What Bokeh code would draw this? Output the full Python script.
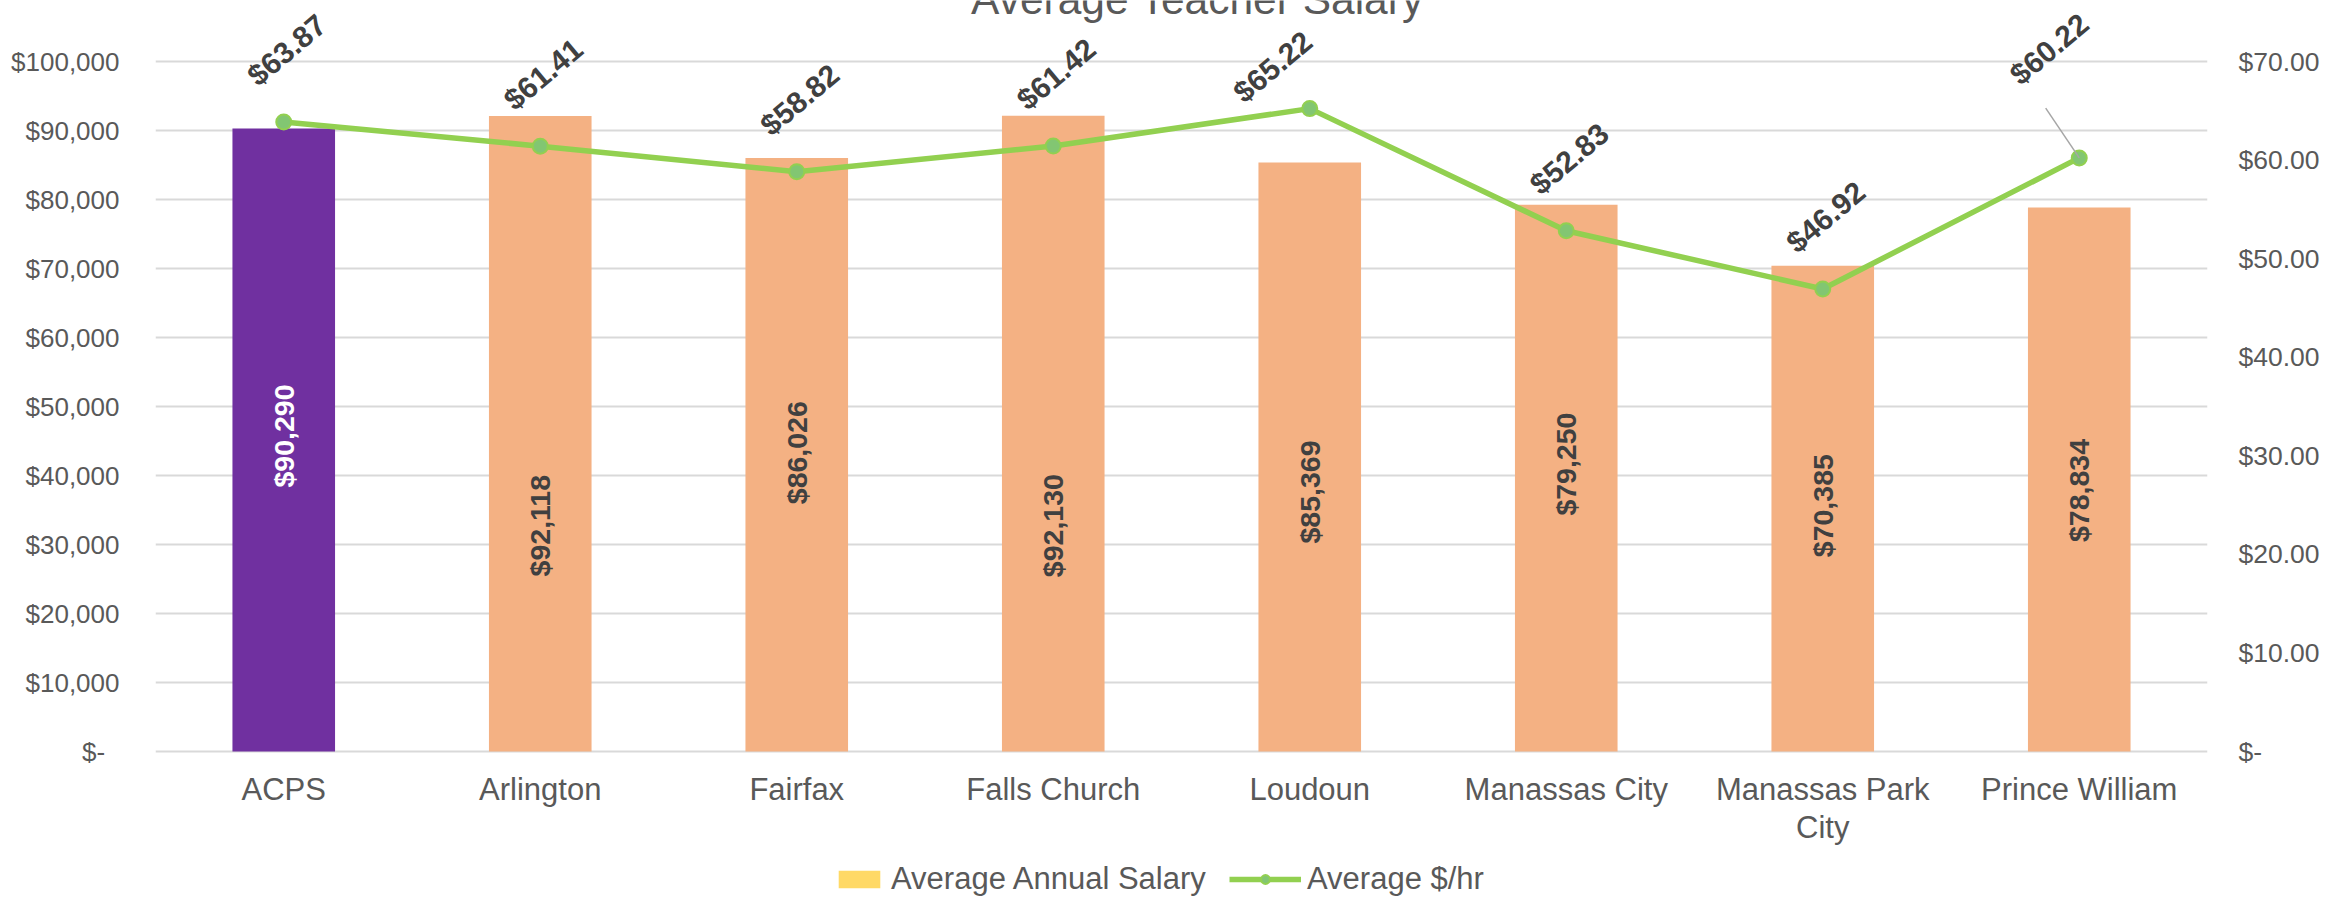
import math
from bokeh.plotting import figure
from bokeh.models import (ColumnDataSource, Range1d, LinearAxis, FixedTicker,
                          Legend, LegendItem, Label)
from bokeh.core.properties import value
from bokeh.embed import file_html
from bokeh.resources import INLINE

# ---------------- data ----------------
districts = ["ACPS", "Arlington", "Fairfax", "Falls Church", "Loudoun",
             "Manassas City", "Manassas Park City", "Prince William"]
district_tick_labels = ["ACPS", "Arlington", "Fairfax", "Falls Church", "Loudoun",
                        "Manassas City", "Manassas Park\nCity", "Prince William"]
annual_salary = [90290, 92118, 86026, 92130, 85369, 79250, 70385, 78834]
hourly_rate = [63.87, 61.41, 58.82, 61.42, 65.22, 52.83, 46.92, 60.22]

salary_ticks = [0, 10000, 20000, 30000, 40000, 50000, 60000, 70000, 80000, 90000, 100000]
salary_tick_labels = ["$-\u00a0\u00a0", "$10,000", "$20,000", "$30,000", "$40,000", "$50,000",
                      "$60,000", "$70,000", "$80,000", "$90,000", "$100,000"]
hourly_ticks = [0, 10, 20, 30, 40, 50, 60, 70]
hourly_tick_labels = ["$-", "$10.00", "$20.00", "$30.00", "$40.00", "$50.00", "$60.00", "$70.00"]

title_text = "Average Teacher Salary"
series_names = ["Average Annual Salary", "Average $/hr"]

# ---------------- layout / styles ----------------
FONT = "Liberation Sans"
GRAY_TEXT = "#595959"
DARK_TEXT = "#404040"
LINE_GREEN = "#92D050"

FIG_H = 897
FRAME_W = 2052
BORDER_L, BORDER_R = 155, 122
TOP_GRID_PX = 61      # pixel row of the axis maximum
ZERO_PX = 751         # pixel row of zero
PX_SPAN = (ZERO_PX - TOP_GRID_PX)
sal_max, hr_max = salary_ticks[-1], hourly_ticks[-1]
sal_range = Range1d(-(FIG_H - ZERO_PX) / PX_SPAN * sal_max,
                    sal_max + TOP_GRID_PX / PX_SPAN * sal_max)
hr_range = Range1d(-(FIG_H - ZERO_PX) / PX_SPAN * hr_max,
                   hr_max + TOP_GRID_PX / PX_SPAN * hr_max)

bar_colors = ["#7030A0"] + ["#F4B183"] * 7
bar_label_colors = ["#FFFFFF"] + [DARK_TEXT] * 7
bar_label_dy = [-4, 92, -2, 92, 35, -14, -3, 11]          # screen px
line_label_dx = [3, 3, 3, 3, -37, 3, 3, -30]              # screen px
line_label_dy = [-72, -72, -72, -72, -42, -72, -72, -109]  # screen px

bars = ColumnDataSource(dict(
    district=districts,
    salary=annual_salary,
    half=[v / 2 for v in annual_salary],
    color=bar_colors,
    label_color=bar_label_colors,
    salary_text=["${:,}".format(v) for v in annual_salary],
    dy=bar_label_dy,
    zero=[0] * len(districts),
    cat_label=district_tick_labels,
))
rates = ColumnDataSource(dict(
    district=districts,
    rate=hourly_rate,
    rate_text=["${:.2f}".format(v) for v in hourly_rate],
    dx=line_label_dx,
    dy=line_label_dy,
))

p = figure(x_range=districts, y_range=sal_range,
           frame_width=FRAME_W, frame_height=FIG_H,
           min_border_left=BORDER_L, min_border_right=BORDER_R,
           min_border_top=0, min_border_bottom=0,
           output_backend="svg", toolbar_location=None)
p.extra_y_ranges = {"hr": hr_range}
p.outline_line_color = None
p.background_fill_color = "white"
p.border_fill_color = "white"

# grid
p.xgrid.grid_line_color = None
p.ygrid.grid_line_color = "#D9D9D9"
p.ygrid.grid_line_width = 2
p.ygrid.ticker = FixedTicker(ticks=salary_ticks)

# left axis
ya = p.yaxis[0]
ya.ticker = FixedTicker(ticks=salary_ticks)
ya.major_label_overrides = {t: l for t, l in zip(salary_ticks, salary_tick_labels)}
ya.axis_line_color = None
ya.major_tick_line_color = None
ya.minor_tick_line_color = None
ya.major_label_standoff = 30
ya.major_label_text_font = FONT
ya.major_label_text_font_size = "26px"
ya.major_label_text_color = GRAY_TEXT

# right axis
ra = LinearAxis(y_range_name="hr", ticker=FixedTicker(ticks=hourly_ticks))
ra.major_label_overrides = {t: l for t, l in zip(hourly_ticks, hourly_tick_labels)}
ra.axis_line_color = None
ra.major_tick_line_color = None
ra.minor_tick_line_color = None
ra.major_label_standoff = 25
ra.major_label_text_font = FONT
ra.major_label_text_font_size = "26.5px"
ra.major_label_text_color = GRAY_TEXT
p.add_layout(ra, "right")

# category labels (drawn as text so two-line labels work)
p.xaxis.visible = False
p.text(x="district", y="zero", text="cat_label", source=bars,
       y_offset=20, text_align="center", text_baseline="top",
       text_line_height=1.1,
       text_font=value(FONT), text_font_size="31px", text_color=GRAY_TEXT)

# bars
bar_r = p.vbar(x="district", top="salary", width=0.4, source=bars,
               fill_color="color", line_color=None)
p.text(x="district", y="half", text="salary_text", source=bars,
       angle=math.pi / 2, y_offset="dy", text_align="center", text_baseline="middle",
       text_font=value(FONT), text_font_style="bold", text_font_size="28.5px",
       text_color="label_color")

# legend proxy for the bar series (series colour, zero height so nothing shows in plot)
legend_bar = p.vbar(x=[districts[0]], top=[0], width=0.4,
                    fill_color="#FFD966", line_color=None)

# line
line_r = p.line(x="district", y="rate", source=rates, y_range_name="hr",
                line_color=LINE_GREEN, line_width=5.5)
pts_r = p.scatter(x="district", y="rate", source=rates, y_range_name="hr",
                  size=15, fill_color="#82C672", line_color=LINE_GREEN, line_width=2)
# leader line for the moved last label
leader = ColumnDataSource(dict(district=[districts[-1]], rate=[hourly_rate[-1]]))
p.ray(x="district", y="rate", source=leader, y_range_name="hr",
      length=60, length_units="screen", angle=math.radians(124),
      line_color="#A6A6A6", line_width=1.5)
p.text(x="district", y="rate", text="rate_text", source=rates, y_range_name="hr",
       angle=math.radians(40), x_offset="dx", y_offset="dy",
       text_align="center", text_baseline="middle",
       text_font=value(FONT), text_font_style="bold", text_font_size="30px",
       text_color=DARK_TEXT)

# title (partly cut off at top, as in reference)
p.add_layout(Label(x=1042, y=FIG_H + 1, x_units="screen", y_units="screen",
                   text=title_text, text_align="center", text_baseline="alphabetic",
                   text_font=FONT, text_font_size="42.5px", text_color=GRAY_TEXT))


def make_legend(item, x, glyph_w):
    lg = Legend(items=[item], orientation="horizontal", location=(x, 0))
    lg.padding = 0
    lg.margin = 0
    lg.spacing = 0
    lg.label_standoff = 6
    lg.glyph_width = glyph_w
    lg.glyph_height = 22
    lg.border_line_color = None
    lg.background_fill_alpha = 0
    lg.label_text_font = FONT
    lg.label_text_font_size = "31px"
    lg.label_text_color = GRAY_TEXT
    lg.label_height = 34
    return lg


p.add_layout(make_legend(LegendItem(label=series_names[0], renderers=[legend_bar]), 678, 52), "center")
p.add_layout(make_legend(LegendItem(label=series_names[1], renderers=[line_r, pts_r]), 1074, 72), "center")

open("out.html", "w").write(file_html(p, INLINE))
